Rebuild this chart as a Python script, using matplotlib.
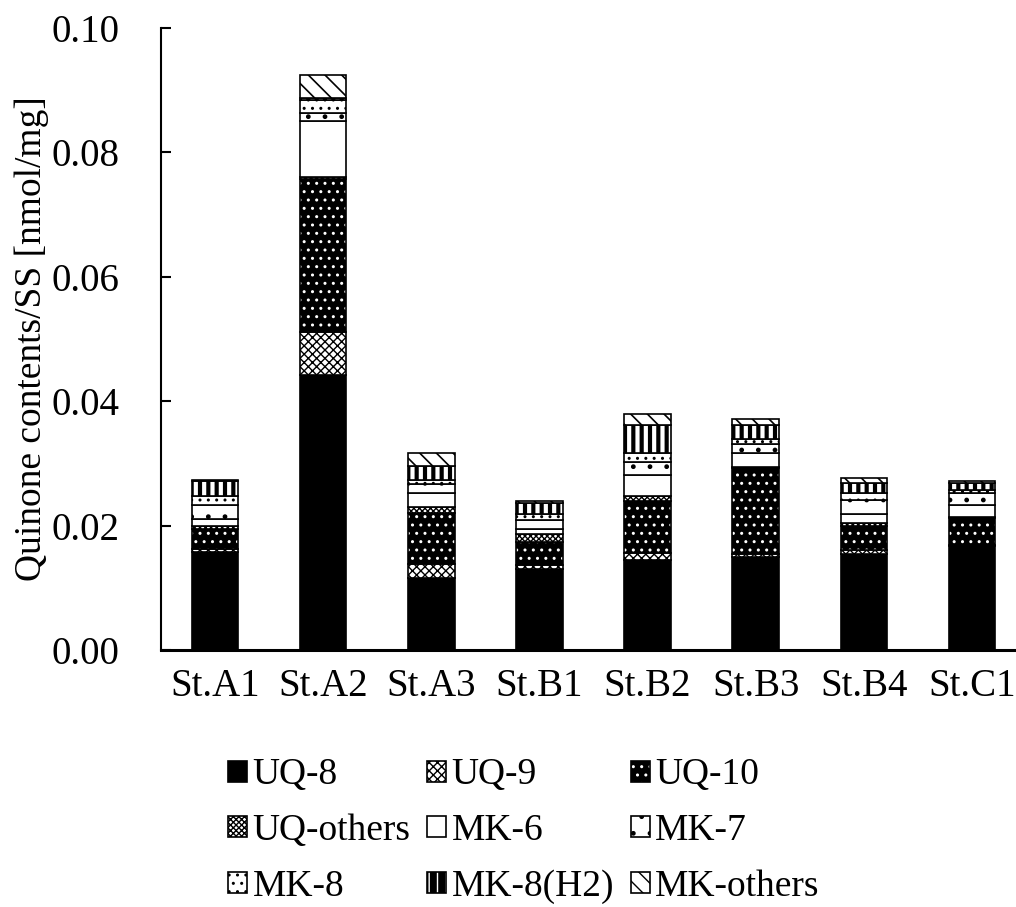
import matplotlib
matplotlib.use("Agg")
import matplotlib.pyplot as plt
from matplotlib.patches import Patch
import numpy as np

plt.rcParams["font.family"] = ["Liberation Serif", "DejaVu Serif"]
plt.rcParams["hatch.linewidth"] = 1.0

stations = ["St.A1", "St.A2", "St.A3", "St.B1", "St.B2", "St.B3", "St.B4", "St.C1"]

# quinone contents per station [nmol/mg]
uq8 = [0.0158, 0.0442, 0.0115, 0.0130, 0.0145, 0.0150, 0.0155, 0.0167]
uq9 = [0.0005, 0.0069, 0.0023, 0.0007, 0.0011, 0.0004, 0.0005, 0.0002]
uq10 = [0.0031, 0.0247, 0.0082, 0.0036, 0.0083, 0.0138, 0.0039, 0.0043]
uq_others = [0.0005, 0.0003, 0.0010, 0.0013, 0.0008, 0.0002, 0.0005, 0.0002]
mk6 = [0.0012, 0.0089, 0.0022, 0.0008, 0.0034, 0.0022, 0.0015, 0.0019]
mk7 = [0.0022, 0.0013, 0.0015, 0.0015, 0.0021, 0.0015, 0.0022, 0.0019]
mk8 = [0.0015, 0.0022, 0.0007, 0.0010, 0.0015, 0.0008, 0.0012, 0.0005]
mk8_h2 = [0.0023, 0.0003, 0.0022, 0.0018, 0.0045, 0.0023, 0.0015, 0.0012]
mk_others = [0.0003, 0.0036, 0.0021, 0.0003, 0.0017, 0.0009, 0.0008, 0.0002]

# name, values, face colour, hatch colour, hatch, hatch line width
series = [
    ("UQ-8", uq8, "black", "black", "", 1.0),
    ("UQ-9", uq9, "white", "black", "xxxx", 1.0),
    ("UQ-10", uq10, "black", "white", "..", 1.0),
    ("UQ-others", uq_others, "white", "black", "xxxxxx", 1.0),
    ("MK-6", mk6, "white", "black", "", 1.0),
    ("MK-7", mk7, "white", "black", ".", 1.0),
    ("MK-8", mk8, "white", "black", "..", 1.0),
    ("MK-8(H2)", mk8_h2, "black", "white", "||", 3.0),
    ("MK-others", mk_others, "white", "black", "\\\\", 1.2),
]


def set_hatch_lw(patch, lw):
    if hasattr(patch, "set_hatch_linewidth"):
        patch.set_hatch_linewidth(lw)


W, H = 1016, 907
fig = plt.figure(figsize=(W / 100, H / 100), dpi=100)
ax = fig.add_axes([161 / W, 1 - 650 / H, (1026 - 161) / W, (650 - 28) / H])

x = np.arange(len(stations)) + 0.5
width = 0.43
bottom = np.zeros(len(stations))
handles = {}
for name, vals, face, hcol, hatch, hlw in series:
    vals = np.array(vals)
    bars = ax.bar(x, vals, width, bottom=bottom, color=face, edgecolor=hcol,
                  hatch=hatch, linewidth=0)
    for p in bars:
        set_hatch_lw(p, hlw)
    ax.bar(x, vals, width, bottom=bottom, fill=False,
           edgecolor="black", linewidth=1.2)
    key = Patch(facecolor=face, edgecolor=hcol, hatch=hatch, linewidth=0)
    set_hatch_lw(key, hlw)
    handles[name] = (key, Patch(fill=False, edgecolor="black", linewidth=1.2))
    bottom += vals

ax.set_xlim(0, len(stations))
ax.set_ylim(0, 0.10)
yticks = np.arange(0, 0.101, 0.02)
ax.set_yticks(yticks)
ax.set_yticklabels([f"{v:.2f}" for v in yticks])
ax.set_xticks(x)
ax.set_xticklabels(stations)
ax.tick_params(axis="y", direction="in", length=7, width=1.5, labelsize=28, pad=30)
ax.tick_params(axis="x", length=0, labelsize=28, pad=13)
ax.set_ylabel("Quinone contents/SS [nmol/mg]", fontsize=27, labelpad=2)
for side in ("top", "right"):
    ax.spines[side].set_visible(False)
ax.spines["left"].set_linewidth(1.5)
ax.spines["bottom"].set_linewidth(2.2)

# legend is filled column by column, so reorder to read row by row
order = ["UQ-8", "UQ-others", "MK-8", "UQ-9", "MK-6", "MK-8(H2)",
         "UQ-10", "MK-7", "MK-others"]
fig.legend([handles[n] for n in order], order, ncol=3, frameon=False,
           loc="upper left", bbox_to_anchor=(228 / W, 1 - 758 / H),
           fontsize=27, handlelength=0.5, handleheight=0.5,
           handletextpad=0.15, columnspacing=0.45, labelspacing=0.56,
           borderpad=0, borderaxespad=0)

fig.savefig("out.png", dpi=100)
